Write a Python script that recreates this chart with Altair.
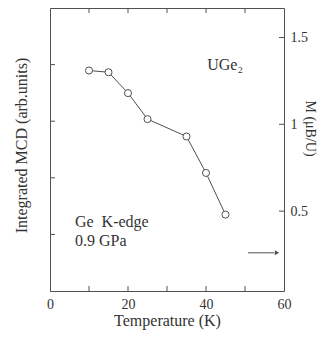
import altair as alt
import pandas as pd

# data
temps = [10, 15, 20, 25, 35, 40, 45]
moment = [1.31, 1.30, 1.18, 1.03, 0.93, 0.72, 0.48]

x_ticks = [0, 10, 20, 30, 40, 50, 60]
top_ticks = [10, 20, 30, 40, 50]
right_ticks = [0.5, 1.0, 1.5]
left_ticks = [1, 2, 3, 4]

W, H = 234, 283
FONT = "Liberation Serif"
INK = "#505050"

df = pd.DataFrame({"T": temps, "M": moment})

xs = alt.Scale(domain=[0, 60], nice=False, zero=False)
ys = alt.Scale(domain=[0.04, 1.67], nice=False, zero=False)

x_axis = alt.Axis(values=x_ticks, ticks=False, domain=False, grid=False,
                  labelFont=FONT, labelFontSize=14, labelColor="#333",
                  labelOverlap=False, labelFlush=False,
                  labelPadding=6, title="Temperature (K)", titleFont=FONT,
                  titleFontSize=16, titleFontWeight="normal", titleColor="#333",
                  titlePadding=1)
y_axis = alt.Axis(orient="right", values=right_ticks, ticks=False, domain=False,
                  grid=False, labelFont=FONT, labelFontSize=14, labelColor="#333",
                  labelOverlap=False, labelFlush=False,
                  labelPadding=6, labelExpr="datum.value == 1 ? '1' : format(datum.value, '.1f')",
                  title="M (μB/U)", titleFont=FONT, titleFontSize=14,
                  titleFontWeight="normal", titleColor="#333", titleAngle=90,
                  titleX=25, titleY=120, titleAlign="center", titleBaseline="middle")

line = alt.Chart(df).mark_line(color=INK, strokeWidth=1).encode(
    x=alt.X("T:Q", scale=xs, axis=x_axis),
    y=alt.Y("M:Q", scale=ys, axis=y_axis),
)
pts = alt.Chart(df).mark_point(shape="circle", filled=True, fill="white",
                               stroke=INK, strokeWidth=1, size=50, opacity=1).encode(
    x=alt.X("T:Q", scale=xs),
    y=alt.Y("M:Q", scale=ys),
)

bt = alt.Chart(pd.DataFrame({"t": x_ticks[1:-1]})).mark_rule(color=INK, strokeWidth=1).encode(
    x=alt.X("t:Q", scale=xs), y=alt.value(H), y2=alt.value(H - 5))
tt = alt.Chart(pd.DataFrame({"t": top_ticks})).mark_rule(color=INK, strokeWidth=1).encode(
    x=alt.X("t:Q", scale=xs), y=alt.value(0), y2=alt.value(5))
rt = alt.Chart(pd.DataFrame({"m": right_ticks})).mark_rule(color=INK, strokeWidth=1).encode(
    y=alt.Y("m:Q", scale=ys), x=alt.value(W - 5), x2=alt.value(W))

# annotation texts and arrow (data coordinates)
ann = pd.DataFrame({"T": [40.3, 6.4, 6.4], "M": [1.34, 0.437, 0.33],
                    "txt": ["UGe₂", "Ge\u00a0 K-edge", "0.9 GPa"]})
texts = alt.Chart(ann).mark_text(font=FONT, fontSize=16, color="#333", align="left",
                                 baseline="middle").encode(
    x=alt.X("T:Q", scale=xs), y=alt.Y("M:Q", scale=ys), text="txt:N")
arrow_df = pd.DataFrame({"T": [50.8], "T2": [57.5], "M": [0.26], "Th": [58.2]})
arrow_line = alt.Chart(arrow_df).mark_rule(color=INK, strokeWidth=1).encode(
    x=alt.X("T:Q", scale=xs), x2="T2:Q", y=alt.Y("M:Q", scale=ys))
arrow_head = alt.Chart(arrow_df).mark_point(shape="triangle-right", filled=True,
                                            color=INK, size=25, opacity=1).encode(
    x=alt.X("Th:Q", scale=xs), y=alt.Y("M:Q", scale=ys))

main = alt.layer(line, pts, bt, tt, rt, texts, arrow_line, arrow_head)

left_axis = alt.Axis(orient="left", labels=False, ticks=False, domain=False, grid=False,
                     title="Integrated MCD (arb.units)", titleFont=FONT, titleFontSize=16,
                     titleFontWeight="normal", titleColor="#333", titleAngle=-90,
                     titleX=-29, titleY=137, titleAlign="center", titleBaseline="middle")
lt = alt.Chart(pd.DataFrame({"v": left_ticks})).mark_rule(color=INK, strokeWidth=1).encode(
    y=alt.Y("v:Q", scale=alt.Scale(domain=[0, 5], nice=False), axis=left_axis),
    x=alt.value(0), x2=alt.value(5))

chart = alt.layer(lt, main).resolve_scale(y="independent").properties(
    width=W, height=H,
    autosize=alt.AutoSizeParams(type="none"),
    padding={"left": 42, "top": 0, "right": 33, "bottom": 44},
).configure_view(stroke=INK, strokeWidth=1)

chart.save("out.html", embed_options={"renderer": "svg", "actions": False})
